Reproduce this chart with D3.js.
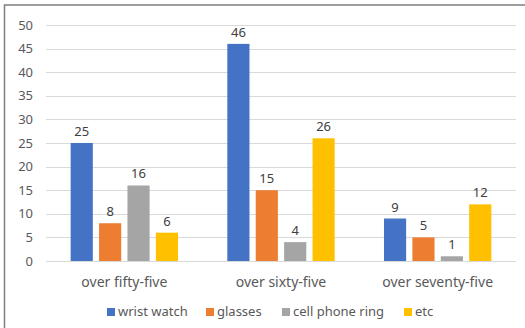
<!DOCTYPE html>
<html>
<head>
<meta charset="utf-8">
<script src="https://cdn.jsdelivr.net/npm/d3@7"></script>
<style>
  html, body { margin: 0; padding: 0; background: #fff; }
  svg { display: block; font-family: "Noto Sans", "Open Sans", sans-serif; }
</style>
</head>
<body>
<svg id="chart" width="525" height="328"></svg>
<script>
const categories = ["over fifty-five", "over sixty-five", "over seventy-five"];
const seriesNames = ["wrist watch", "glasses", "cell phone ring", "etc"];
const wristWatch = [25, 46, 9];
const glasses = [8, 15, 5];
const cellPhoneRing = [16, 4, 1];
const etc = [6, 26, 12];
const yTicks = [0, 5, 10, 15, 20, 25, 30, 35, 40, 45, 50];
const colors = ["#4472C4", "#ED7D31", "#A5A5A5", "#FFC000"];

const seriesValues = [wristWatch, glasses, cellPhoneRing, etc];

const svg = d3.select("#chart");
const W = 525, H = 328;
const plot = { left: 46, right: 516, top: 25, bottom: 261 };

// outer frame
svg.append("rect")
  .attr("x", 4.5).attr("y", 5).attr("width", W + 10).attr("height", H + 10)
  .attr("fill", "none").attr("stroke", "#7f7f7f").attr("stroke-width", 1.5);

const y = d3.scaleLinear().domain([0, 50]).range([plot.bottom, plot.top]);
const x0 = d3.scaleBand().domain(categories).range([plot.left, plot.right]).padding(0);
const x1 = d3.scaleBand().domain(seriesNames).range([0, x0.bandwidth()])
  .paddingInner(0.22).paddingOuter(0.868);

// gridlines
svg.append("g").selectAll("line").data(yTicks).join("line")
  .attr("x1", plot.left).attr("x2", plot.right)
  .attr("y1", d => Math.round(y(d)) + 0.5).attr("y2", d => Math.round(y(d)) + 0.5)
  .attr("stroke", "#d9d9d9").attr("stroke-width", 1);

// y axis labels
const yAxis = d3.axisLeft(y).tickValues(yTicks).tickSize(0).tickPadding(0);
const gy = svg.append("g").attr("transform", "translate(33,0)").call(yAxis);
gy.select(".domain").remove();
gy.selectAll("text").attr("fill", "#595959").style("font-size", "13px")
  .style("font-family", "\"Noto Sans\", \"Open Sans\", sans-serif");

// x axis labels
const xAxis = d3.axisBottom(x0).tickSize(0).tickPadding(0);
const gx = svg.append("g").attr("transform", `translate(0,${plot.bottom + 16})`).call(xAxis);
gx.select(".domain").remove();
gx.selectAll("text").attr("fill", "#595959").style("font-size", "14px")
  .style("font-family", "\"Noto Sans\", \"Open Sans\", sans-serif");

// bars
const rows = categories.map((c, i) => ({
  category: c,
  items: seriesNames.map((s, j) => ({ series: s, value: seriesValues[j][i], color: colors[j] }))
}));

const groups = svg.append("g").selectAll("g").data(rows).join("g")
  .attr("transform", d => `translate(${x0(d.category)},0)`);

groups.selectAll("rect").data(d => d.items).join("rect")
  .attr("x", d => x1(d.series))
  .attr("y", d => y(d.value))
  .attr("width", x1.bandwidth())
  .attr("height", d => y(0) - y(d.value))
  .attr("fill", d => d.color);

groups.selectAll("text").data(d => d.items).join("text")
  .attr("x", d => x1(d.series) + x1.bandwidth() / 2)
  .attr("y", d => y(d.value) - 7)
  .attr("text-anchor", "middle")
  .attr("fill", "#404040")
  .style("font-size", "13px")
  .text(d => d.value);

// legend
const legendX = [107, 206, 282, 404];
const legend = svg.append("g").selectAll("g").data(seriesNames).join("g")
  .attr("transform", (d, i) => `translate(${legendX[i]},308)`);
legend.append("rect").attr("width", 8).attr("height", 8).attr("fill", (d, i) => colors[i]);
legend.append("text").attr("x", 11).attr("y", 8)
  .attr("fill", "#595959").style("font-size", "13px").text(d => d);
</script>
</body>
</html>
